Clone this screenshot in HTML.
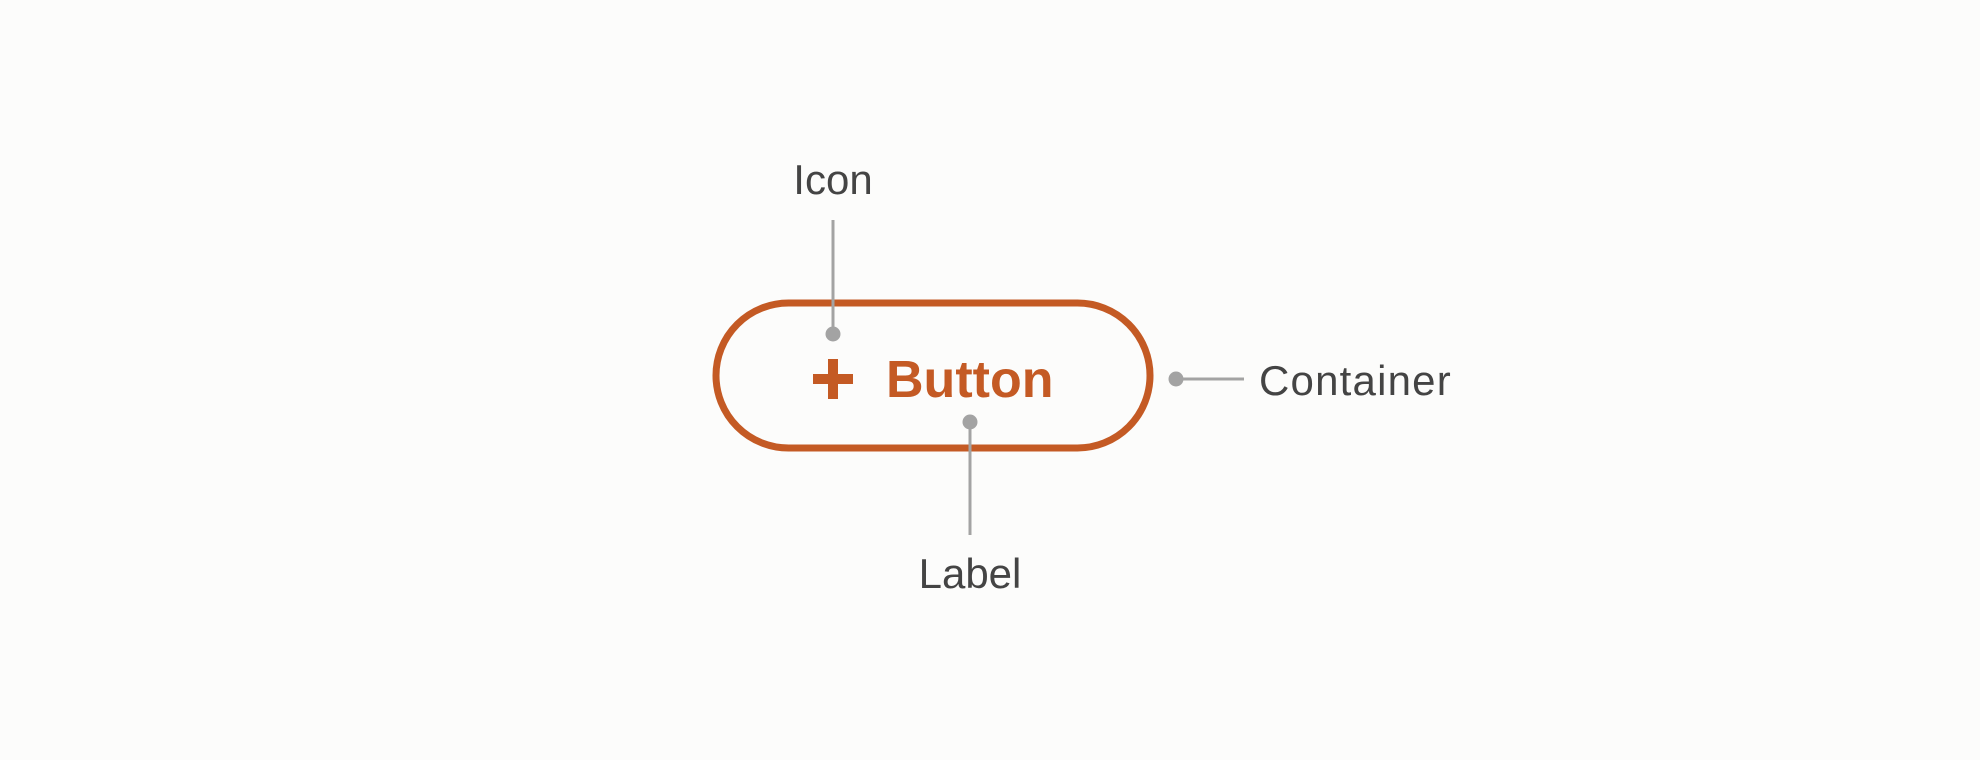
<!DOCTYPE html>
<html><head><style>
html,body{margin:0;padding:0;background:#fcfcfb;}
svg{display:block}
</style></head><body>
<svg width="1980" height="760" viewBox="0 0 1980 760" xmlns="http://www.w3.org/2000/svg">
<rect width="1980" height="760" fill="#fcfcfb"/>
<rect x="716" y="303" width="434" height="145" rx="72.5" ry="72.5" fill="none" stroke="#c45a24" stroke-width="7"/>
<g stroke="#a3a3a3" stroke-width="3" fill="none">
<line x1="833" y1="220" x2="833" y2="333"/>
<line x1="970" y1="422" x2="970" y2="535"/>
<line x1="1176" y1="379" x2="1244" y2="379"/>
</g>
<g fill="#a3a3a3">
<circle cx="833" cy="334" r="7.5"/>
<circle cx="970" cy="422" r="7.5"/>
<circle cx="1176" cy="379" r="7.5"/>
</g>
<rect x="813" y="374" width="40" height="10" fill="#c45a24"/>
<rect x="828" y="359" width="10" height="40" fill="#c45a24"/>
<text x="886" y="397" font-family="Liberation Sans, sans-serif" font-weight="bold" font-size="52" fill="#c45a24">Button</text>
<g font-family="Liberation Sans, sans-serif" font-size="42" fill="#444">
<text x="833" y="194" text-anchor="middle">Icon</text>
<text x="970" y="588" text-anchor="middle">Label</text>
<text x="1259" y="395" letter-spacing="1.2">Container</text>
</g>
</svg>
</body></html>
